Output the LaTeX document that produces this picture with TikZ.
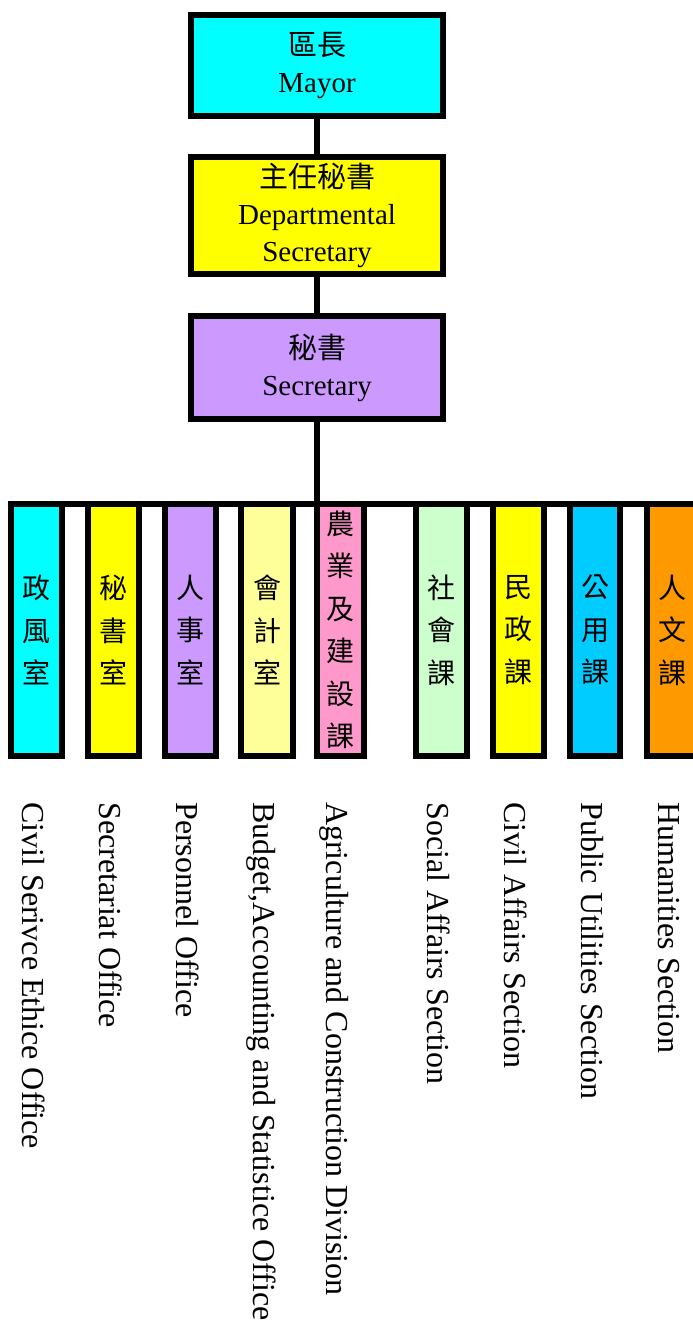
\documentclass[tikz,border=0pt]{standalone}
\usepackage{fontspec}
\usepackage{tikz}
\setmainfont{Liberation Serif}
\newfontfamily\cjk{Noto Sans CJK TC}
\definecolor{aqua}{RGB}{0,255,255}
\definecolor{lemon}{RGB}{255,255,0}
\definecolor{lilac}{RGB}{204,153,255}
\definecolor{paleyellow}{RGB}{255,255,153}
\definecolor{rose}{RGB}{255,153,204}
\definecolor{mint}{RGB}{204,255,204}
\definecolor{sky}{RGB}{0,204,255}
\definecolor{amber}{RGB}{255,153,0}

\begin{document}
\begin{tikzpicture}[x=1pt, y=1pt,
		topbox/.style={draw, line width=6pt, outer sep=0pt, minimum width=252pt, align=center, font=\fontsize{29}{37}\selectfont},
		unitbox/.style={draw, line width=6pt, outer sep=0pt, minimum height=252pt, inner sep=0pt, align=center, font=\cjk\fontsize{28}{42.5}\selectfont},
		unitname/.style={rotate=-90, anchor=base west, inner sep=0pt, font=\fontsize{32}{38}\selectfont},
		link/.style={line width=5.5pt}]
	\clip (0,0) rectangle (693,-1322);
	\node[topbox, fill=aqua, minimum height=101pt] (mayor) at (317,-65.5) {{\cjk 區長}\\Mayor};
	\node[topbox, fill=lemon, minimum height=117pt] (depsec) at (317,-215.5) {{\cjk 主任秘書}\\Departmental\\Secretary};
	\node[topbox, fill=lilac, minimum height=103pt] (sec) at (317,-367.5) {{\cjk 秘書}\\Secretary};
	\foreach \n/\x/\w/\c/\zh/\en in {
			b1/36/51/aqua/{政\\風\\室}/{Civil Serivce Ethice Office},
			b2/113.5/51/lemon/{秘\\書\\室}/{Secretariat Office},
			b3/190.5/51/lilac/{人\\事\\室}/{Personnel Office},
			b4/267/52/paleyellow/{會\\計\\室}/{Budget,Accounting and Statistice Office},
			b5/340.5/47/rose/{\fontsize{28}{41.6}\selectfont 農\\業\\及\\建\\設\\課}/{Agriculture and Construction Division},
			b6/441.5/51/mint/{社\\會\\課}/{Social Affairs Section},
			b7/518.5/51/lemon/{民\\政\\課}/{Civil Affairs Section},
			b8/595/50/sky/{公\\用\\課}/{Public Utilities Section},
			b9/672/51/amber/{人\\文\\課}/{Humanities Section}}
	{
		\node[unitbox, fill=\c, minimum width=\w pt] (\n) at (\x,-630) {\zh};
		\node[unitname] (\n-t) at ([shift={(-14,-46)}]\n.south) {\en};
	}
	\coordinate (barend) at (700,-504);
	\draw[link] (mayor.south) -- (depsec.north);
	\draw[link] (depsec.south) -- (sec.north);
	\draw[link] (sec.south) -- (b5.north west);
	\draw[link] (b1.north west) -- (barend);
\end{tikzpicture}
\end{document}
